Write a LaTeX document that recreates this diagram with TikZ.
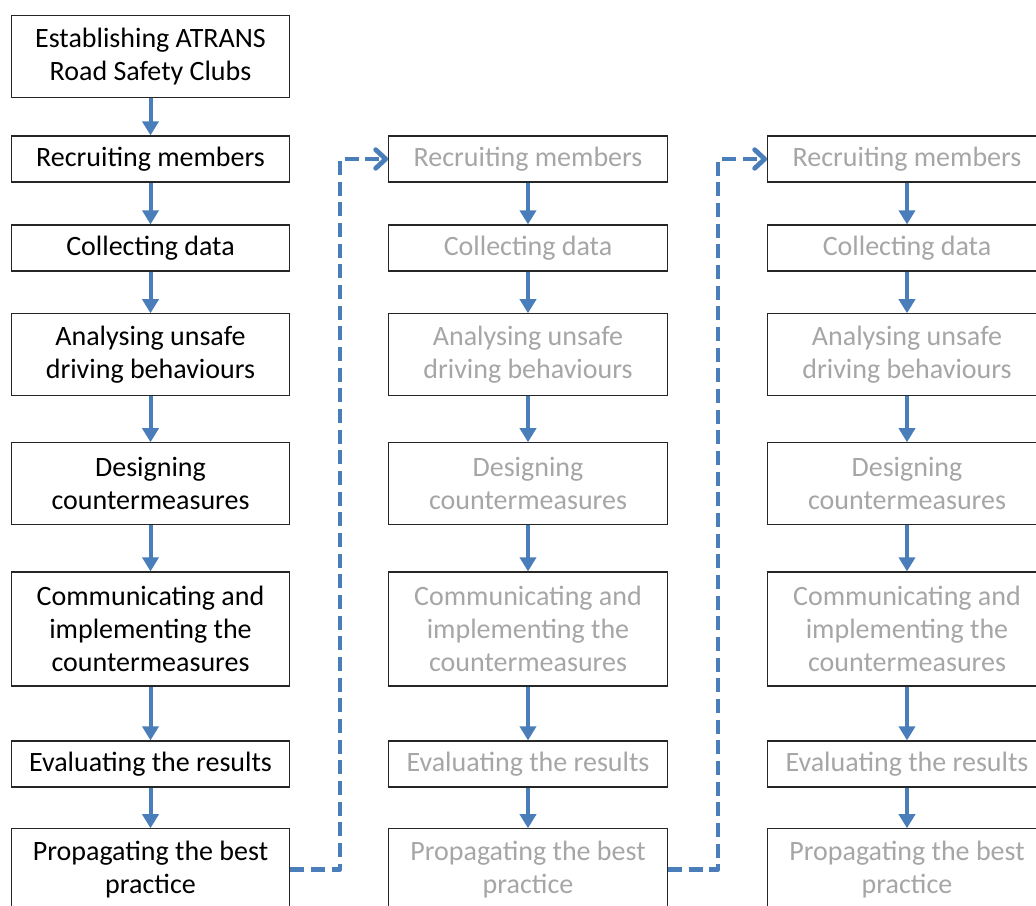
\documentclass[tikz,border=0pt]{standalone}
\usepackage{fontspec}
\setmainfont{Carlito}
\usepackage{tikz}
\usetikzlibrary{arrows.meta}
\usetikzlibrary{calc}
\definecolor{flowblue}{RGB}{74,126,187}
\definecolor{fadedtext}{RGB}{166,166,166}

\begin{document}
\begin{tikzpicture}[
    x=0.75pt, y=-0.75pt,
    stepbox/.style={draw=black!85, line width=0.9pt, fill=white, align=center,
        minimum width=209pt, inner sep=0pt, font=\fontsize{21}{24.5}\selectfont},
    flow/.style={flowblue, line width=3pt, -{Triangle[width=12pt,length=10.5pt]}},
    jump/.style={flowblue, line width=3.6pt, dash pattern=on 10.5pt off 5pt,
        line join=round, -{Straight Barb[width=14pt,length=7.5pt,line width=3.6pt,round]}}
    ]
   % frame
   \useasboundingbox (0,0) rectangle (1036,906);
   % first box
   \node[stepbox, minimum height=61pt] (est) at (150.5,56.5)
      {Establishing ATRANS\\Road Safety Clubs};
   % three columns of steps
   \foreach \c/\x/\tc in {1/150.5/black, 2/528/fadedtext, 3/907/fadedtext} {
      \node[stepbox, text=\tc, minimum height=34.5pt] (rec\c) at (\x,159) {Recruiting members};
      \node[stepbox, text=\tc, minimum height=34.5pt] (col\c) at (\x,248) {Collecting data};
      \node[stepbox, text=\tc, minimum height=61pt] (ana\c) at (\x,354.5) {Analysing unsafe\\driving behaviours};
      \node[stepbox, text=\tc, minimum height=61pt] (des\c) at (\x,483.5) {Designing\\countermeasures};
      \node[stepbox, text=\tc, minimum height=85.5pt] (com\c) at (\x,629) {Communicating and\\implementing the\\countermeasures};
      \node[stepbox, text=\tc, minimum height=34.5pt] (eva\c) at (\x,764) {Evaluating the results};
      \node[stepbox, text=\tc, minimum height=61pt] (pro\c) at (\x,869.5) {Propagating the best\\practice};
      % arrows down the column
      \draw[flow] (rec\c) -- (col\c);
      \draw[flow] (col\c) -- (ana\c);
      \draw[flow] (ana\c) -- (des\c);
      \draw[flow] (des\c) -- (com\c);
      \draw[flow] (com\c) -- (eva\c);
      \draw[flow] (eva\c) -- (pro\c);
   }
   \draw[flow] (est) -- (rec1);
   % dashed links to the next round
   \coordinate (up1) at (340,0);
   \coordinate (up2) at (718,0);
   \draw[jump] (pro1.east) -| (up1 |- rec2.west) -- (rec2.west);
   \draw[jump] (pro2.east) -| (up2 |- rec3.west) -- (rec3.west);
\end{tikzpicture}
\end{document}
